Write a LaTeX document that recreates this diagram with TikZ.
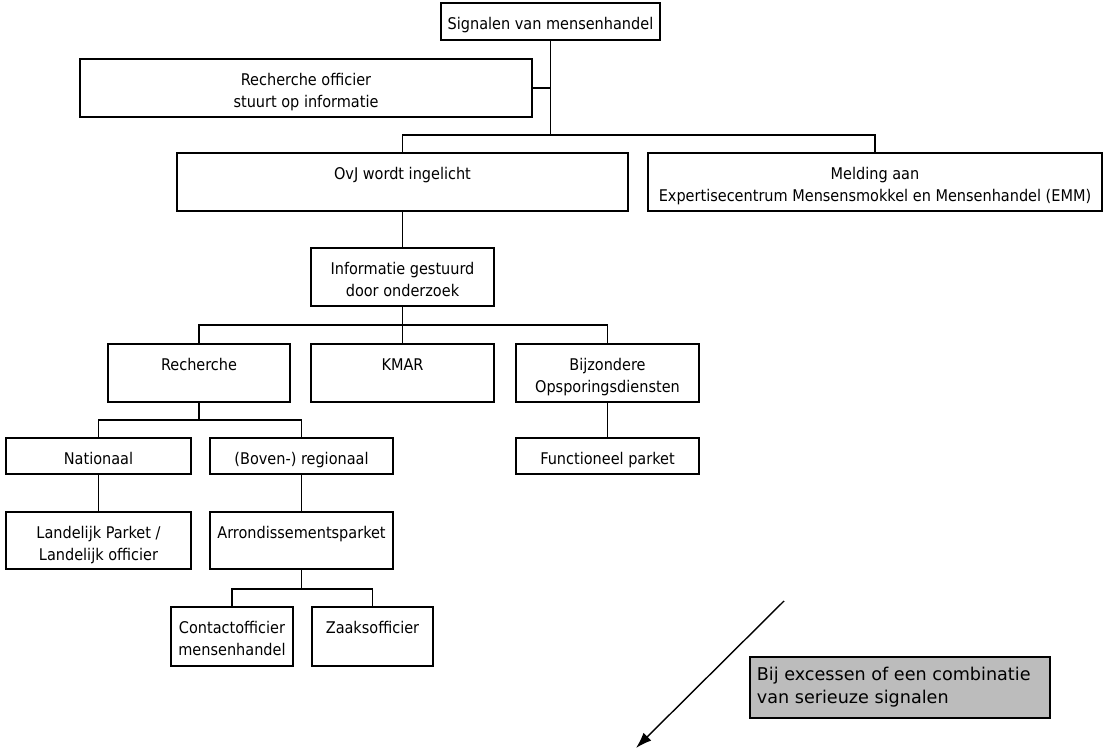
\documentclass[tikz,border=0pt]{standalone}
\usepackage{fontspec}
\setmainfont{DejaVu Sans Condensed}
\newfontfamily\widefont{DejaVu Sans}
\usetikzlibrary{arrows.meta}
\newcommand\ovbox[6]{%
  \node[box, minimum width={#4-#2}, minimum height={#5-#3}] (#1) at ({(#2+#4)/2},{(#3+#5)/2}) {};
  \node[txt] (#1t) at ({(#2+#4)/2},{#3+13.5}) {#6};
}
\begin{document}
\begin{tikzpicture}[x=1pt,y=-1pt,line width=1.8pt,
  box/.style={draw, rectangle, inner sep=0pt, line width=1.8pt},
  txt/.style={anchor=north, inner sep=0pt, align=center, font=\fontsize{16.1}{22}\selectfont},
  conn/.style={line width=1.8pt},
  arr/.style={line width=1.4pt, -{Latex[length=16pt,width=11pt]}}]
\useasboundingbox (0,0) rectangle (1106,754);
\fill[white] (0,0) rectangle (1106,754);

\ovbox{s}{441}{3}{660}{40}{Signalen van mensenhandel}
\ovbox{ro}{80}{59}{532}{117}{Recherche officier\\stuurt op informatie}
\ovbox{ovj}{177}{153}{628}{211}{OvJ wordt ingelicht}
\ovbox{emm}{648}{153}{1102}{211}{Melding aan\\Expertisecentrum Mensensmokkel en Mensenhandel (EMM)}
\ovbox{info}{311}{248}{494}{306}{Informatie gestuurd\\door onderzoek}
\ovbox{rech}{108}{344}{290}{402}{Recherche}
\ovbox{kmar}{311}{344}{494}{402}{KMAR}
\ovbox{bijz}{516}{344}{699}{402}{Bijzondere\\Opsporingsdiensten}
\ovbox{nat}{6}{438}{191}{474}{Nationaal}
\ovbox{bov}{210}{438}{393}{474}{(Boven-) regionaal}
\ovbox{func}{516}{438}{699}{474}{Functioneel parket}
\ovbox{land}{6}{512}{191}{569}{Landelijk Parket /\\Landelijk officier}
\ovbox{arr}{210}{512}{393}{569}{Arrondissementsparket}
\ovbox{con}{171}{607}{293}{666}{Contactofficier\\mensenhandel}
\ovbox{zaak}{312}{607}{433}{666}{Zaaksofficier}

\node[box, fill={rgb,255:red,188;green,188;blue,188}, minimum width=300, minimum height=61] (grey) at (900,687.5) {};
\node[txt, anchor=north west, align=left, font=\widefont\fontsize{17.6}{23}\selectfont] (greyt) at (756,666) {Bij excessen of een combinatie\\van serieuze signalen};

\coordinate (j1) at (s.south |- 0,135);
\coordinate (j2) at (info.south |- 0,325);
\coordinate (j3) at (rech.south |- 0,420);
\coordinate (j4) at (arr.south |- 0,589);

\draw[conn] (s.south) -- (j1);
\draw[conn] (ro.east) -- (ro.east -| s.south);
\draw[conn] (ovj.north) |- (j1) -| (emm.north);
\draw[conn] (ovj.south) -- (info.north);
\draw[conn] (info.south) -- (j2);
\draw[conn] (rech.north) |- (j2) -| (bijz.north);
\draw[conn] (j2) -- (kmar.north);
\draw[conn] (rech.south) -- (j3);
\draw[conn] (nat.north) |- (j3) -| (bov.north);
\draw[conn] (nat.south) -- (land.north);
\draw[conn] (bov.south) -- (arr.north);
\draw[conn] (bijz.south) -- (func.north);
\draw[conn] (arr.south) -- (j4);
\draw[conn] (con.north) |- (j4) -| (zaak.north);

\coordinate (a1) at (784,601);
\coordinate (a2) at (636,748);
\draw[arr] (a1) -- (a2);
\end{tikzpicture}
\end{document}
